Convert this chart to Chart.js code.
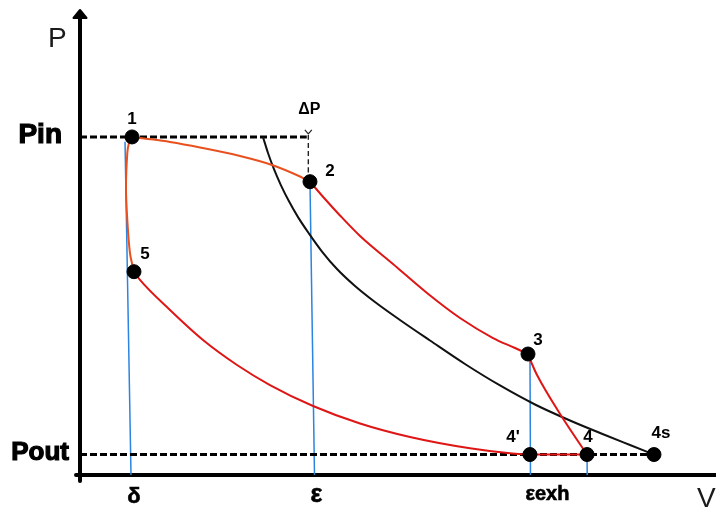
<!DOCTYPE html>
<html>
<head>
<meta charset="utf-8">
<script src="https://cdn.jsdelivr.net/npm/chart.js@4"></script>
<style>
  html, body { margin: 0; padding: 0; background: #fff; overflow: hidden; }
  #wrap { width: 716px; height: 507px; position: relative; overflow: hidden; }
  #pvChart { display: block; }
</style>
</head>
<body>
<div id="wrap"><canvas id="pvChart"></canvas></div>
<script>
  // pressure levels (arbitrary units, V and P both 0..100)
  const PIN = 72.7;
  const POUT = 4.4;

  // state points
  const pointNames = ['1', '2', '3', "4'", '4', '4s', '5'];
  const pointV = [8.18, 36.16, 70.44, 70.75, 79.72, 90.25, 8.49];
  const pointP = [PIN, 63.08, 26.02, POUT, POUT, POUT, 43.72];

  // 1 -> 2 (admission with pressure drop)
  const curve12V = [8.18, 11.01, 14.15, 18.87, 25.16, 30.19, 34.59, 36.16];
  const curve12P = [72.7, 72.22, 71.61, 70.43, 68.60, 66.67, 64.19, 63.08];

  // 2 -> 3 (expansion)
  const curve23V = [36.16, 38.52, 40.88, 44.03, 49.21, 54.56, 59.75, 64.94, 68.40, 70.44];
  const curve23P = [63.08, 59.35, 55.81, 51.40, 45.38, 39.14, 33.76, 29.46, 27.31, 26.02];

  // 3 -> 4 (blow down)
  const curve34V = [70.44, 71.07, 71.86, 75.79, 79.72];
  const curve34P = [26.02, 23.87, 21.51, 12.47, POUT];

  // 5 -> 4' (recompression, drawn backwards)
  const curve54V = [8.49, 9.43, 14.15, 19.34, 24.69, 29.87, 36.64, 44.03, 51.89, 61.32, 67.61, 70.75];
  const curve54P = [43.72, 41.94, 35.48, 29.03, 23.66, 19.35, 14.84, 11.08, 8.17, 5.74, 4.67, POUT];

  // 4' -> 4 (exhaust)
  const curve44V = [70.75, 79.72];
  const curve44P = [POUT, POUT];

  // 1 -> 5 (inlet closing)
  const curve15V = [8.18, 7.70, 7.44, 7.23, 7.44, 7.86, 8.49];
  const curve15P = [72.7, 71.40, 69.25, 61.94, 54.84, 47.74, 43.72];

  // ideal isentrope from Pin to 4s
  const isentropeV = [28.77, 29.56, 30.50, 31.60, 32.86, 34.28, 36.01, 38.05, 40.41, 43.24, 46.38, 50.31, 55.03, 60.53, 66.04, 71.54, 77.04, 82.55, 86.48, 90.25];
  const isentropeP = [72.69, 69.25, 65.76, 62.30, 58.86, 55.46, 51.91, 48.06, 44.30, 40.65, 37.20, 33.33, 28.92, 23.87, 19.25, 15.16, 11.72, 8.60, 6.45, POUT];

  // volume marker lines (top, bottom)
  const deltaLineV = [7.08, 8.02];
  const deltaLineP = [71.68, 0];
  const epsLineV = [36.16, 36.87];
  const epsLineP = [63.0, 0];
  const exhLineV = [70.75, 70.83];
  const exhLineP = [25.8, 0];
  const line4V = [79.72, 79.75];
  const line4P = [POUT, 0];

  // dashed pressure lines
  const pinLineV = [0, 35.65];
  const poutLineV = [0, 90.1];
  const dpLineV = [35.9, 35.9];
  const dpLineP = [73.1, 64.3];

  // axis tick labels
  const xTickLabels = ['δ', 'ε', 'εexh'];
  const xTickValues = [8.02, 36.87, 70.83];
  const yTickLabels = ['Pin', 'Pout'];
  const yTickValues = [PIN, POUT];

  function pts(vs, ps) {
    return vs.map((v, i) => ({ x: v, y: ps[i] }));
  }

  function lineSet(vs, ps, color, width, extra) {
    return Object.assign({
      type: 'line',
      data: pts(vs, ps),
      borderColor: color,
      backgroundColor: color,
      borderWidth: width,
      pointRadius: 0,
      cubicInterpolationMode: 'monotone',
      fill: false,
      showLine: true,
      clip: false,
      order: 3
    }, extra || {});
  }

  const ORANGE = '#e8501e';
  const RED = '#de1616';
  const BLUE = '#2b84e0';

  // axes + arrow + texts
  const diagramPlugin = {
    id: 'diagram',
    beforeDatasetsDraw(chart) {
      const { ctx, chartArea, scales } = chart;
      const x0 = scales.x.getPixelForValue(0);
      const y0 = scales.y.getPixelForValue(0);
      ctx.save();
      ctx.strokeStyle = '#000';
      ctx.lineWidth = 4;
      ctx.lineCap = 'round';
      ctx.beginPath();
      ctx.moveTo(x0, chartArea.top + 4);
      ctx.lineTo(x0, y0 + 6);
      ctx.moveTo(x0 - 4, y0);
      ctx.lineTo(chartArea.right + 2, y0);
      ctx.stroke();
      // arrow head on P axis
      ctx.lineJoin = 'round';
      ctx.lineWidth = 2;
      ctx.fillStyle = '#000';
      ctx.beginPath();
      ctx.moveTo(x0, chartArea.top);
      ctx.lineTo(x0 - 6.5, chartArea.top + 8);
      ctx.lineTo(x0 + 6.5, chartArea.top + 8);
      ctx.closePath();
      ctx.fill();
      ctx.stroke();
      ctx.restore();
    },
    afterDatasetsDraw(chart) {
      const { ctx, scales } = chart;
      const sx = scales.x, sy = scales.y;
      ctx.save();
      ctx.fillStyle = '#000';

      // small chevron at the top of the ΔP line
      const ax = sx.getPixelForValue(dpLineV[0]);
      const ay = sy.getPixelForValue(PIN);
      ctx.strokeStyle = '#222';
      ctx.lineWidth = 1.2;
      ctx.beginPath();
      ctx.moveTo(ax - 3.5, ay - 7);
      ctx.lineTo(ax, ay - 3);
      ctx.lineTo(ax + 3.5, ay - 7);
      ctx.stroke();

      // axis names
      ctx.fillStyle = '#1a1a1a';
      ctx.font = '28px "Liberation Sans", Arial, sans-serif';
      ctx.textAlign = 'left';
      ctx.textBaseline = 'alphabetic';
      ctx.fillText('P', 48, 47);
      ctx.fillText('V', 697, 507);

      // y tick labels
      ctx.fillStyle = '#000';
      ctx.textAlign = 'right';
      const ySizes = [28, 26];
      const yRight = [62, 69];
      const yDrop = [6.5, 5.5];
      yTickLabels.forEach((t, i) => {
        ctx.font = 'bold ' + ySizes[i] + 'px "Liberation Sans", Arial, sans-serif';
        ctx.lineWidth = 1.2;
        ctx.strokeStyle = '#000';
        const yy = sy.getPixelForValue(yTickValues[i]) + yDrop[i];
        ctx.fillText(t, yRight[i], yy);
        ctx.strokeText(t, yRight[i], yy);
      });

      // x tick labels
      const xSizes = [22, 25, 20];
      const xShift = [3, 2, -5];
      const xAlign = ['center', 'center', 'left'];
      const xBase = [503, 502, 500];
      xTickLabels.forEach((t, i) => {
        ctx.font = 'bold ' + xSizes[i] + 'px "Liberation Sans", Arial, sans-serif';
        ctx.textAlign = xAlign[i];
        const tx = sx.getPixelForValue(xTickValues[i]) + xShift[i];
        ctx.lineWidth = 0.6;
        ctx.fillText(t, tx, xBase[i]);
        ctx.strokeText(t, tx, xBase[i]);
      });

      // point labels
      const offsets = [[0, -18], [20, -10], [10, -14], [-17, -17], [1, -17], [7, -21], [11, -17]];
      ctx.font = 'bold 17px "Liberation Sans", Arial, sans-serif';
      ctx.textAlign = 'center';
      ctx.textBaseline = 'middle';
      pointNames.forEach((n, i) => {
        const px = sx.getPixelForValue(pointV[i]) + offsets[i][0];
        const py = sy.getPixelForValue(pointP[i]) + offsets[i][1];
        ctx.fillText(n, px, py);
      });
      ctx.font = 'bold 16px "Liberation Sans", Arial, sans-serif';
      ctx.fillText('ΔP', ax + 1, ay - 27);
      ctx.restore();
    }
  };

  const ctx = document.getElementById('pvChart').getContext('2d');
  const pvChart = new Chart(ctx, {
    type: 'scatter',
    data: {
      datasets: [
        {
          label: 'state points',
          data: pts(pointV, pointP),
          backgroundColor: '#000',
          borderColor: '#000',
          pointRadius: 7,
          pointHoverRadius: 7,
          showLine: false,
          clip: false,
          order: 0
        },
        lineSet(curve12V, curve12P, ORANGE, 2, { order: 1 }),
        lineSet(curve15V, curve15P, ORANGE, 2, { order: 1, cubicInterpolationMode: 'default', tension: 0.35 }),
        lineSet(curve23V, curve23P, RED, 2, { order: 1 }),
        lineSet(curve34V, curve34P, RED, 2, { order: 1 }),
        lineSet(curve54V, curve54P, RED, 2, { order: 1 }),
        lineSet(curve44V, curve44P, RED, 2, { order: 1 }),
        lineSet(isentropeV, isentropeP, '#111', 2, { order: 2 }),
        lineSet(pinLineV, [PIN, PIN], '#000', 3, { order: 2, borderDash: [7, 3] }),
        lineSet(poutLineV, [POUT, POUT], '#000', 3, { order: 2, borderDash: [7, 3] }),
        lineSet(dpLineV, dpLineP, '#222', 1.4, { order: 2, borderDash: [5, 3] }),
        lineSet(deltaLineV, deltaLineP, BLUE, 1.5),
        lineSet(epsLineV, epsLineP, BLUE, 1.5),
        lineSet(exhLineV, exhLineP, BLUE, 1.5),
        lineSet(line4V, line4P, BLUE, 1.5)
      ]
    },
    options: {
      responsive: true,
      maintainAspectRatio: false,
      animation: false,
      layout: { autoPadding: false, padding: { left: 80, right: 0, top: 10, bottom: 32 } },
      plugins: {
        legend: { display: false },
        tooltip: { enabled: false }
      },
      scales: {
        x: { type: 'linear', min: 0, max: 100, display: false },
        y: { type: 'linear', min: 0, max: 100, display: false }
      }
    },
    plugins: [diagramPlugin]
  });
</script>
</body>
</html>
